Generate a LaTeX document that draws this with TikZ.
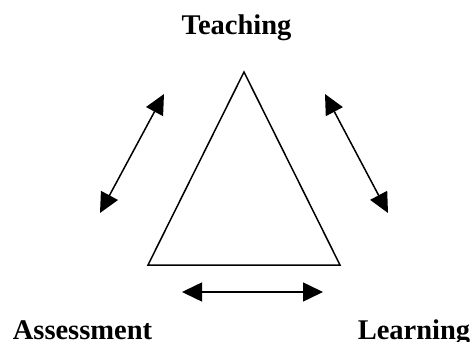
\documentclass[tikz,border=0pt]{standalone}
\usepackage{fontspec}
\setmainfont{Liberation Serif}
\usetikzlibrary{arrows.meta}
\begin{document}
\begin{tikzpicture}[x=1pt,y=1pt,
  label/.style={font=\fontsize{28.5}{30}\selectfont\bfseries, anchor=base, inner sep=0pt},
  edge/.style={line width=1.5pt, line join=miter},
  link/.style={line width=1.5pt, {Triangle[length=20pt,width=19pt]}-{Triangle[length=20pt,width=19pt]}}]
  \useasboundingbox (0,0) rectangle (472,341);

  % corner labels
  \node[label] (teach) at (236.5,306) {Teaching};
  \node[label] (assess) at (82.5,2) {Assessment};
  \node[label] (learn) at (414,2) {Learning};

  % triangle vertices
  \coordinate (top) at (244,269);
  \coordinate (bl) at (148,76);
  \coordinate (br) at (340,76);
  \draw[edge] (top) -- (bl) -- (br) -- cycle;

  % arrow end points
  \coordinate (la) at (100,128);
  \coordinate (lb) at (164,247);
  \coordinate (ra) at (325,247);
  \coordinate (rb) at (388,128);
  \coordinate (ba) at (182,49);
  \coordinate (bb) at (323,49);

  \draw[link] (la) -- (lb);
  \draw[link] (ra) -- (rb);
  \draw[link] (ba) -- (bb);
\end{tikzpicture}
\end{document}
